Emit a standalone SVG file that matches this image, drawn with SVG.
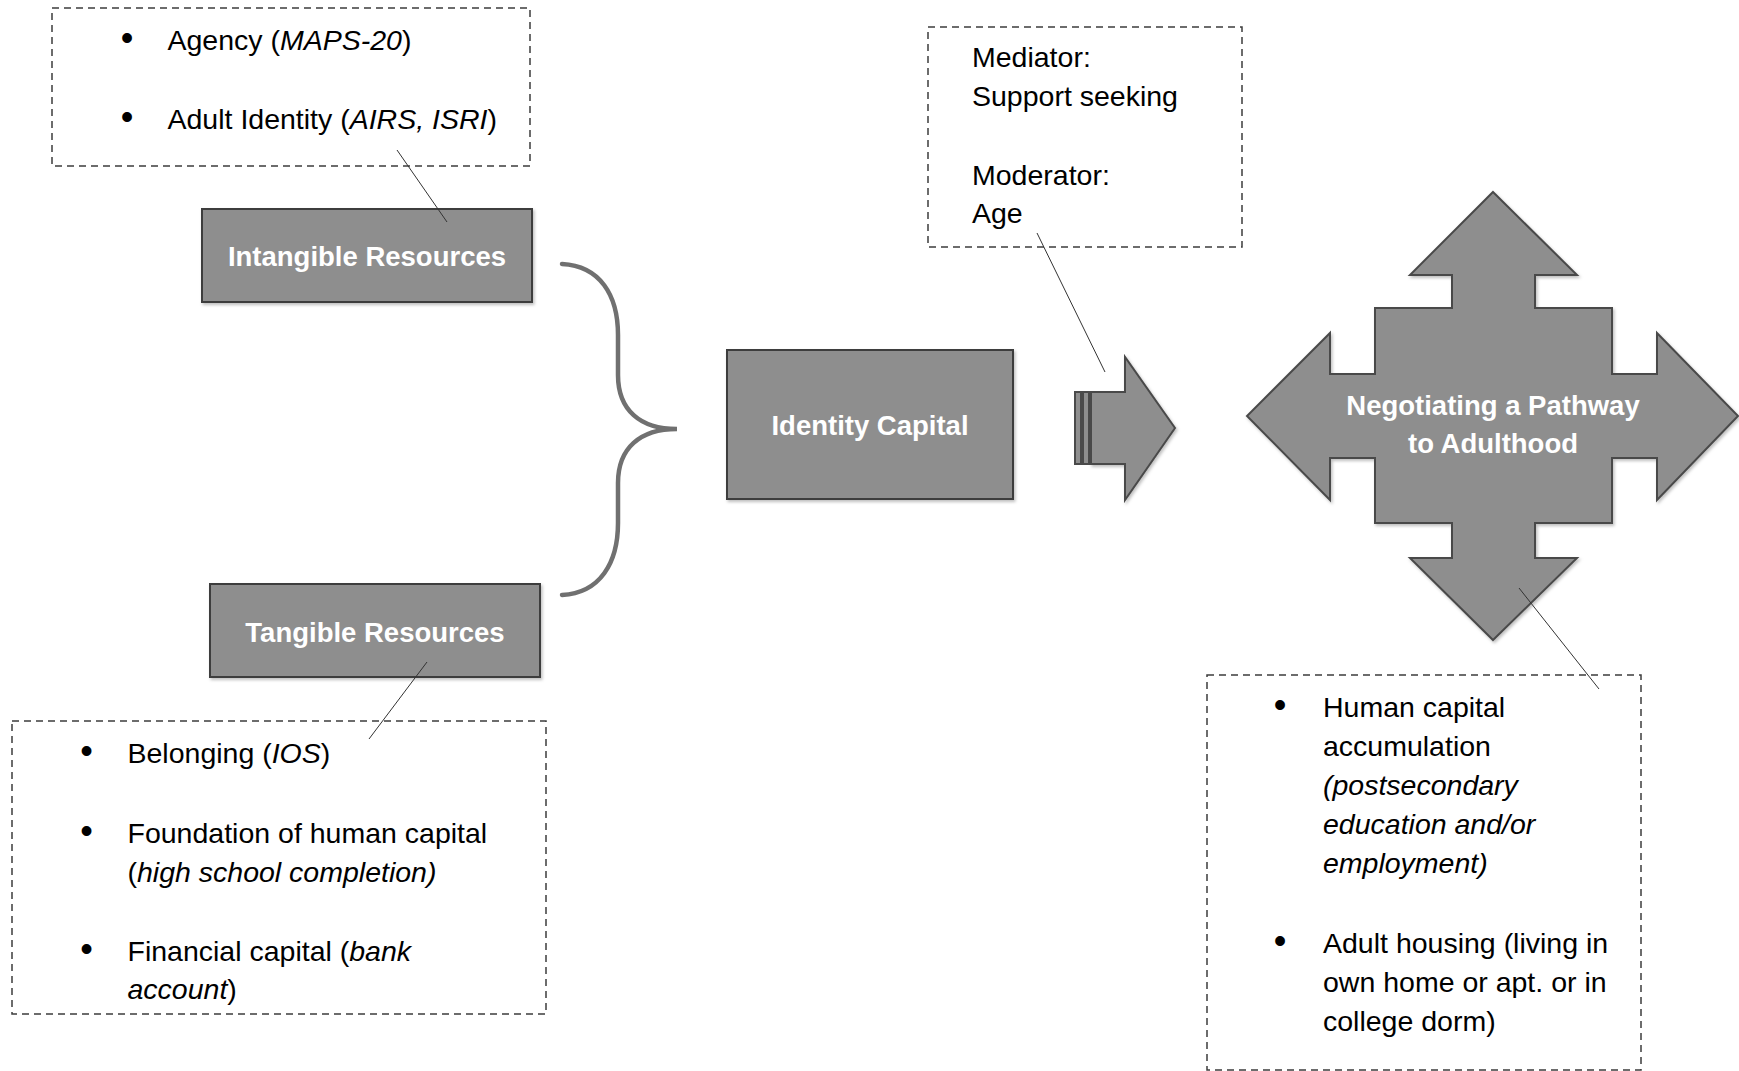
<svg xmlns="http://www.w3.org/2000/svg" width="1739" height="1071" viewBox="0 0 1739 1071">
<style>
.box{fill:#8e8e8e;stroke:#3c3c3c;stroke-width:2}
.shape{fill:#8e8e8e;stroke:#4a4a4a;stroke-width:2}
.dash{fill:none;stroke:#3c3c3c;stroke-width:1.5;stroke-dasharray:7,5}
.lbl{font-family:"Liberation Sans",Arial,sans-serif;font-weight:bold;font-size:27.5px;fill:#ffffff;text-anchor:middle}
.txt{font-family:"Liberation Sans",Arial,sans-serif;font-size:28.5px;fill:#000000}
.bul{font-family:"Liberation Sans",Arial,sans-serif;font-size:36px;fill:#000000;text-anchor:middle}
.it{font-style:italic}
.lead{stroke:#333333;stroke-width:1;fill:none}
.brace{fill:none;stroke:#707070;stroke-width:4.5;stroke-linecap:round}
</style>
<defs>
<filter id="sh" x="-10%" y="-10%" width="120%" height="120%">
<feDropShadow dx="1.5" dy="2" stdDeviation="1.5" flood-color="#000" flood-opacity="0.25"/>
</filter>
</defs>

<g id="intangible-notes">
<rect class="dash" x="52" y="8" width="478" height="158"/>
<text class="bul" x="127" y="50">•</text>
<text class="txt" x="167.5" y="50">Agency (<tspan class="it">MAPS-20</tspan>)</text>
<text class="bul" x="127" y="128.5">•</text>
<text class="txt" x="167.5" y="128.5">Adult Identity (<tspan class="it">AIRS, ISRI</tspan>)</text>
</g>

<g id="intangible">
<rect class="box" filter="url(#sh)" x="202" y="209" width="330" height="93"/>
<text class="lbl" x="367" y="266">Intangible Resources</text>
</g>

<g id="tangible">
<rect class="box" filter="url(#sh)" x="210" y="584" width="330" height="93"/>
<text class="lbl" x="375" y="642">Tangible Resources</text>
</g>

<g id="tangible-notes">
<rect class="dash" x="12" y="721" width="534" height="293"/>
<text class="bul" x="86.5" y="763">•</text>
<text class="txt" x="127.5" y="763">Belonging (<tspan class="it">IOS</tspan>)</text>
<text class="bul" x="86.5" y="843">•</text>
<text class="txt" x="127.5" y="843">Foundation of human capital</text>
<text class="txt" x="127.5" y="882">(<tspan class="it">high school completion)</tspan></text>
<text class="bul" x="86.5" y="961">•</text>
<text class="txt" x="127.5" y="961">Financial capital (<tspan class="it">bank</tspan></text>
<text class="txt" x="127.5" y="999"><tspan class="it">account</tspan>)</text>
</g>

<g id="identity-capital">
<rect class="box" filter="url(#sh)" x="727" y="350" width="286" height="149"/>
<text class="lbl" x="870" y="435">Identity Capital</text>
</g>

<g id="mediator-notes">
<rect class="dash" x="928" y="27" width="314" height="220"/>
<text class="txt" x="972" y="67">Mediator:</text>
<text class="txt" x="972" y="106">Support seeking</text>
<text class="txt" x="972" y="184.5">Moderator:</text>
<text class="txt" x="972" y="223">Age</text>
</g>

<g id="arrow-right">
<rect class="shape" x="1075" y="392" width="6" height="72"/>
<rect class="shape" x="1083" y="392" width="6" height="72"/>
<polygon class="shape" filter="url(#sh)" points="1091,392 1125,392 1125,357 1175,428 1125,500 1125,464 1091,464"/>
</g>

<g id="pathway">
<polygon class="shape" filter="url(#sh)" points="1493,192 1577,275 1535,275 1535,308 1612,308 1612,374 1657,374 1657,333 1738,416 1657,500 1657,458 1612,458 1612,523 1535,523 1535,558 1577,558 1493,640 1410,558 1452,558 1452,523 1375,523 1375,458 1330,458 1330,500 1247,416 1330,333 1330,374 1375,374 1375,308 1452,308 1452,275 1410,275"/>
<text class="lbl" x="1493" y="415" font-size="28">Negotiating a Pathway</text>
<text class="lbl" x="1493" y="453" font-size="28">to Adulthood</text>
</g>

<g id="outcome-notes">
<rect class="dash" x="1207" y="675" width="434" height="395"/>
<text class="bul" x="1280" y="717">•</text>
<text class="txt" x="1323" y="717">Human capital</text>
<text class="txt" x="1323" y="756">accumulation</text>
<text class="txt it" x="1323" y="795">(postsecondary</text>
<text class="txt it" x="1323" y="834">education and/or</text>
<text class="txt it" x="1323" y="873">employment)</text>
<text class="bul" x="1280" y="953">•</text>
<text class="txt" x="1323" y="953">Adult housing (living in</text>
<text class="txt" x="1323" y="992">own home or apt. or in</text>
<text class="txt" x="1323" y="1031">college dorm)</text>
</g>

<g id="connectors">
<path class="brace" d="M562,264 C600,266 618,295 618,335 L618,375 C618,410 640,429 677,429 C640,429 618,448 618,483 L618,523 C618,563 600,593 562,595"/>
<line class="lead" x1="397" y1="150" x2="447" y2="222"/>
<line class="lead" x1="427" y1="662" x2="369" y2="739"/>
<line class="lead" x1="1037" y1="233" x2="1105" y2="372"/>
<line class="lead" x1="1519" y1="588" x2="1599" y2="689"/>
</g>
</svg>
